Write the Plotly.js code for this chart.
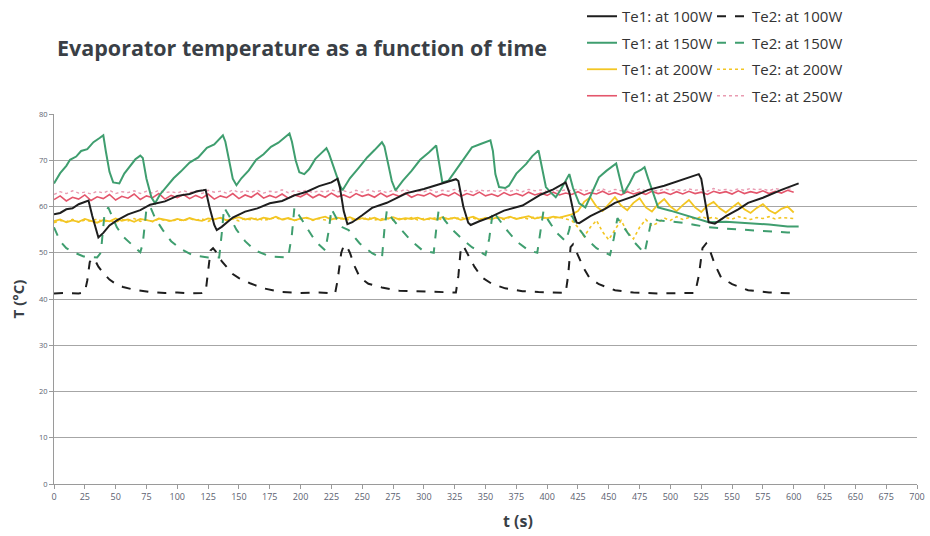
<!DOCTYPE html>
<html>
<head>
<meta charset="utf-8">
<script src="https://cdn.plot.ly/plotly-3.0.1.min.js"></script>
<style>html,body{margin:0;padding:0;background:#fff;}#chart{width:930px;height:536px;}</style>
</head>
<body>
<div id="chart"></div>
<script>
// ---- Te1 at 100W (black solid) ----
const te1_100_t = [0,5,10,15,20,25,28,31,34,36,40,45,51,60,70,78,90,100,110,116,121,123,126,130,132,136,145,155,165,175,185,195,205,215,225,230,232,235,238,242,250,258,270,286,300,315,326,328,332,336,338,345,353,365,380,395,405,415,418,422,424,426,435,447,455,470,482,495,510,523,525,528,531,536,545,555,563,575,590,604];
const te1_100_v = [58.3,58.6,59.4,59.6,60.5,61.0,61.3,58.0,55.0,53.3,54.3,55.9,57.0,58.3,59.2,60.4,61.1,62.3,62.7,63.3,63.5,63.6,60.0,56.0,54.9,55.6,57.6,58.9,59.6,60.7,61.2,62.4,63.2,64.4,65.2,66.0,64.0,59.0,56.2,56.6,58.1,59.7,60.8,62.9,63.8,65.1,65.9,65.5,60.0,56.5,56.0,56.8,57.6,59.1,60.2,62.6,63.7,65.2,63.0,58.0,56.5,56.4,57.9,59.5,60.8,62.2,63.6,64.5,65.9,67.0,66.0,61.0,56.6,56.3,57.9,59.4,60.8,61.9,63.6,65.0];

// ---- Te2 at 100W (black dashed) ----
const te2_100_t = [0,10,20,25,27,29,31,33,36,40,45,50,56,65,78,90,100,110,120,123,125,127,129,132,136,140,145,150,159,170,185,200,215,228,230,233,235,237,240,244,248,255,266,280,300,315,326,328,330,332,336,341,347,355,366,380,393,405,415,417,419,421,425,430,434,442,455,470,490,505,520,523,526,529,532,536,541,550,563,580,595,604];
const te2_100_v = [41.2,41.3,41.2,41.5,44.0,48.0,48.8,48.5,47.0,45.6,44.2,43.3,42.6,42.0,41.5,41.3,41.4,41.2,41.3,41.5,46.0,50.5,51.0,50.0,48.2,46.9,45.4,44.5,43.4,42.3,41.5,41.3,41.4,41.2,44.0,50.0,51.5,51.6,50.0,47.0,44.7,43.3,42.5,41.8,41.6,41.5,41.4,45.0,51.0,51.5,49.5,47.0,44.7,43.3,42.3,41.7,41.5,41.4,41.3,45.0,51.2,51.8,49.5,46.5,44.7,43.2,41.9,41.4,41.2,41.3,41.3,45.0,51.0,52.0,50.5,47.5,44.7,43.2,41.9,41.4,41.2,41.2];

// ---- Te1 at 150W (green solid) ----
const te1_150_t = [0,5,10,13,18,22,27,32,37,40,42,45,48,53,57,62,66,70,72,75,79,82,86,91,97,103,110,117,124,130,137,139,142,145,148,152,158,164,170,176,182,188,191,193,196,199,203,207,212,217,221,223,226,229,232,234,240,247,254,260,266,268,271,274,277,283,290,297,304,310,312,315,320,326,333,339,346,354,356,358,361,366,369,375,383,388,393,396,399,403,407,411,415,418,421,426,431,436,442,448,456,459,462,467,471,476,479,482,485,490,500,509,520,531,545,563,580,595,604];
const te1_150_v = [65.0,67.2,68.8,70.1,70.8,72.0,72.4,73.9,74.8,75.4,72.0,67.5,65.2,65.0,67.1,68.8,70.2,71.0,70.5,66.0,62.0,60.7,62.6,64.2,66.1,67.6,69.5,70.6,72.7,73.4,75.4,74.0,70.0,66.0,64.6,66.1,67.8,70.1,71.3,72.9,73.8,75.2,75.8,74.0,70.0,67.4,67.0,68.1,70.3,71.6,72.6,71.5,69.0,66.7,64.5,63.5,66.1,68.3,70.6,72.2,73.9,73.0,69.0,65.5,63.5,65.6,67.7,70.1,71.7,73.2,70.0,65.2,65.6,67.9,70.6,72.8,73.5,74.3,72.0,67.0,64.2,64.0,64.5,67.1,69.2,70.9,72.1,68.0,64.2,63.0,62.0,63.6,65.4,67.0,64.0,60.7,59.8,62.6,66.3,67.7,69.3,66.0,62.8,65.1,67.2,67.9,68.5,66.0,63.5,59.8,59.1,58.4,57.6,56.6,56.7,56.4,56.1,55.7,55.7];

// ---- Te2 at 150W (green dashed) ----
const te2_150_t = [0,5,10,15,24,35,38,41,44,47,51,56,62,70,72,75,78,82,88,95,103,112,125,134,136,138,142,148,155,163,175,190,193,195,199,205,212,220,223,225,229,234,239,248,258,266,268,270,274,280,290,299,308,310,312,317,323,331,339,350,353,356,360,367,375,385,392,394,397,401,407,415,418,420,425,432,440,451,454,457,462,470,479,482,485,490,500,510,520,531,545,563,580,595,604];
const te2_150_v = [55.5,52.5,51.0,50.2,49.2,49.0,50.0,58.5,59.8,58.0,55.5,53.5,52.0,50.1,52.0,59.5,60.0,57.5,55.0,52.5,50.8,49.5,49.0,49.0,54.0,59.8,58.0,55.0,52.5,50.5,49.2,49.0,54.0,59.8,58.0,55.5,52.5,50.5,55.0,59.5,57.5,55.5,54.9,52.0,49.9,48.8,55.0,59.2,57.5,55.5,52.5,50.5,50.0,55.0,59.2,57.0,55.0,53.0,51.2,49.5,53.0,59.0,57.5,55.0,52.5,50.5,50.0,54.0,59.0,57.0,54.5,52.5,55.0,58.0,55.5,53.0,51.0,49.5,53.0,57.5,55.5,52.5,49.9,54.0,57.5,57.0,56.8,56.5,56.0,55.5,55.2,54.9,54.6,54.4,54.4];

// ---- regular 5 s sampling grid for the noisy series ----
const grid5 = [0,5,10,15,20,25,30,35,40,45,50,55,60,65,70,75,80,85,90,95,100,105,110,115,120,125,130,135,140,145,150,155,160,165,170,175,180,185,190,195,200,205,210,215,220,225,230,235,240,245,250,255,260,265,270,275,280,285,290,295,300,305,310,315,320,325,330,335,340,345,350,355,360,365,370,375,380,385,390,395,400,405,410,415,420,425,430,435,440,445,450,455,460,465,470,475,480,485,490,495,500,505,510,515,520,525,530,535,540,545,550,555,560,565,570,575,580,585,590,595,600];

// ---- Te1 at 200W (yellow solid) ----
const te1_200_v = [56.8,57.2,56.6,57.0,56.7,57.3,56.9,56.5,57.1,56.8,57.4,56.9,57.2,56.7,57.3,57.0,56.8,57.4,57.1,56.9,57.3,
57.0,57.5,57.1,56.9,57.4,57.2,57.6,57.0,57.3,57.7,57.2,57.5,57.1,57.6,57.3,57.8,57.2,57.5,57.0,57.4,
57.6,57.1,57.5,57.8,57.2,57.6,57.3,57.7,57.1,57.5,57.2,57.6,57.0,57.4,57.7,57.2,57.5,57.3,57.6,57.1,
57.5,57.2,57.7,57.3,57.6,57.1,57.4,57.8,57.2,57.5,57.3,57.7,57.4,57.8,57.3,57.6,57.9,57.4,57.7,57.5,
57.8,57.6,58.0,58.3,59.0,61.0,62.0,60.0,59.0,60.5,62.0,60.2,59.2,60.8,61.8,59.8,58.9,60.5,61.6,60.0,
59.0,60.3,61.4,59.8,58.8,60.2,61.0,59.6,58.7,59.8,60.8,59.4,58.6,59.7,60.5,59.2,58.5,59.5,60.0,58.7];

// ---- Te2 at 200W (yellow dotted) ----
const te2_200_v = [56.5,57.0,56.7,57.2,56.6,57.1,56.8,57.3,56.7,57.0,56.6,57.2,56.9,57.4,56.8,57.1,56.7,57.3,57.0,56.8,57.2,
56.9,57.4,57.0,57.3,56.8,57.2,57.5,57.0,57.3,56.9,57.4,57.1,57.5,57.0,57.3,57.6,57.1,57.4,57.0,57.3,
57.5,57.0,57.4,57.1,57.6,57.2,57.5,57.0,57.4,57.2,57.6,57.1,57.3,57.5,57.0,57.4,57.2,57.6,57.1,57.4,
57.2,57.6,57.1,57.5,57.3,57.7,57.2,57.5,57.1,57.6,57.3,57.5,57.2,57.7,57.4,57.6,57.3,57.8,57.4,57.6,
57.5,57.7,57.3,57.0,55.5,53.5,55.5,57.0,54.5,52.8,55.0,57.0,54.5,53.0,55.5,57.2,55.8,56.5,57.5,57.0,
57.8,57.2,57.6,57.3,57.8,57.4,57.7,57.2,57.6,57.3,57.8,57.5,57.2,57.6,57.4,57.8,57.3,57.6,57.5,57.4];

// ---- Te1 at 250W (red solid) ----
const te1_250_v = [61.5,62.3,61.2,62.0,61.6,62.5,61.3,62.1,61.7,62.6,61.4,62.2,61.8,62.7,61.5,62.3,61.9,62.8,61.6,62.4,61.9,
62.6,61.7,62.4,61.8,62.7,61.6,62.3,61.9,62.8,61.7,62.5,62.0,62.9,61.8,62.4,61.9,62.7,61.8,62.5,62.1,
62.8,61.9,62.6,62.0,62.9,62.1,62.5,61.9,62.8,62.2,62.6,62.0,62.9,62.1,62.7,62.2,62.9,62.0,62.6,62.3,
62.9,62.1,62.7,62.3,63.0,62.2,62.8,62.4,63.1,62.3,62.7,62.2,63.0,62.4,62.8,62.3,63.1,62.5,62.9,62.4,
63.1,62.5,62.9,62.6,63.2,62.5,63.0,62.7,63.3,62.6,63.0,62.5,63.2,62.7,63.1,62.6,63.3,62.8,63.1,62.6,
63.2,62.7,63.3,62.8,63.1,62.6,63.3,62.9,63.2,62.7,63.4,62.8,63.2,62.9,63.4,62.8,63.3,62.9,63.5,63.1];

// ---- Te2 at 250W (pink dotted) ----
const te2_250_v = [62.6,63.2,62.8,63.4,62.9,63.1,62.7,63.3,62.9,63.5,62.8,63.2,63.0,63.4,62.8,63.3,62.9,63.5,63.0,63.2,62.9,
63.4,63.0,63.3,62.8,63.5,63.1,63.3,62.9,63.6,63.0,63.4,63.1,63.5,62.9,63.3,63.1,63.6,63.0,63.4,63.2,
63.5,63.0,63.4,63.1,63.6,63.2,63.4,63.0,63.5,63.1,63.6,63.2,63.4,63.0,63.5,63.2,63.7,63.1,63.4,63.2,
63.6,63.1,63.5,63.3,63.7,63.2,63.5,63.1,63.6,63.3,63.5,63.2,63.7,63.3,63.6,63.2,63.7,63.4,63.6,63.2,
63.7,63.3,63.6,63.4,63.8,63.3,63.6,63.4,63.8,63.2,63.7,63.4,63.6,63.3,63.8,63.4,63.7,63.3,63.8,63.5,
63.7,63.4,63.8,63.5,63.7,63.3,63.9,63.5,63.7,63.4,63.8,63.5,63.9,63.6,63.8,63.4,63.9,63.6,63.8,63.7];

// ---- labels ----
const seriesNames = ['Te1: at 100W','Te2: at 100W','Te1: at 150W','Te2: at 150W','Te1: at 200W','Te2: at 200W','Te1: at 250W','Te2: at 250W'];
const chartTitle = 'Evaporator temperature as a function of time';
const xTitle = 't (s)';
const yTitle = 'T (°C)';

const C_BLACK = '#1e1e1e', C_GREEN = '#3f9e6f', C_YELLOW = '#f3c623', C_RED = '#e4566c', C_PINK = '#e99bb1';

function tr(x, y, name, color, dash, width, legend, rank) {
  return {x: x, y: y, name: name, type: 'scatter', mode: 'lines',
          line: {color: color, dash: dash, width: width}, legend: legend,
          legendgroup: legend + rank, legendrank: rank, hoverinfo: 'x+y+name'};
}

const traces = [
  tr(grid5, te1_250_v, seriesNames[6], C_RED, 'solid', 1.6, 'legend', 4),
  tr(grid5, te2_250_v, seriesNames[7], C_PINK, 'dot', 1.4, 'legend2', 4),
  tr(grid5, te1_200_v, seriesNames[4], C_YELLOW, 'solid', 1.8, 'legend', 3),
  tr(grid5, te2_200_v, seriesNames[5], C_YELLOW, 'dot', 1.6, 'legend2', 3),
  tr(te2_150_t, te2_150_v, seriesNames[3], C_GREEN, 'dash', 2, 'legend2', 2),
  tr(te1_150_t, te1_150_v, seriesNames[2], C_GREEN, 'solid', 2, 'legend', 2),
  tr(te2_100_t, te2_100_v, seriesNames[1], C_BLACK, 'dash', 2, 'legend2', 1),
  tr(te1_100_t, te1_100_v, seriesNames[0], C_BLACK, 'solid', 2, 'legend', 1)
];

const FONT = '"Open Sans", "DejaVu Sans", sans-serif';
const legendCommon = {
  xref: 'container', yref: 'container', xanchor: 'left', yanchor: 'top',
  orientation: 'v', bgcolor: 'rgba(0,0,0,0)', borderwidth: 0,
  font: {family: FONT, size: 15, color: '#333'}, tracegroupgap: 4, itemwidth: 30,
  traceorder: 'grouped'
};

const layout = {
  width: 930, height: 536,
  paper_bgcolor: '#ffffff', plot_bgcolor: '#ffffff',
  margin: {l: 54, r: 13, t: 114, b: 52, autoexpand: false},
  font: {family: FONT, color: '#444'},
  title: {text: chartTitle, xref: 'container', yref: 'container', x: 57/930, xanchor: 'left',
          y: 1 - 48/536, yanchor: 'middle', font: {family: FONT, size: 21.5, color: '#3a3f46', weight: 'bold'}},
  showlegend: true,
  legend: Object.assign({}, legendCommon, {x: 582/930, y: 1 + 2/536}),
  legend2: Object.assign({}, legendCommon, {x: 712/930, y: 1 + 2/536}),
  xaxis: {range: [0, 700], dtick: 25, tick0: 0, showgrid: false, zeroline: false,
          showline: true, linecolor: '#9a9a9a', linewidth: 1, ticks: 'outside', ticklen: 4, tickcolor: '#9a9a9a',
          tickfont: {family: FONT, size: 9, color: '#5b6170'}},
  yaxis: {range: [0, 80], dtick: 10, tick0: 0, showgrid: true, gridcolor: '#a6a6a6', gridwidth: 1, zeroline: false,
          showline: true, linecolor: '#9a9a9a', linewidth: 1, ticks: 'outside', ticklen: 4, tickcolor: '#9a9a9a',
          tickfont: {family: FONT, size: 7.5, color: '#5b6170'},
          title: {text: yTitle, standoff: 10, font: {family: FONT, size: 15, color: '#3a3f46', weight: 'bold'}}},
  annotations: [
    {text: xTitle, xref: 'paper', yref: 'paper', x: (518-54)/863, y: -(521-484)/370, xanchor: 'center', yanchor: 'middle',
     showarrow: false, font: {family: FONT, size: 16, color: '#3a3f46', weight: 'bold'}}
  ]
};

Plotly.newPlot('chart', traces, layout, {displayModeBar: false, staticPlot: true});
</script>
</body>
</html>
